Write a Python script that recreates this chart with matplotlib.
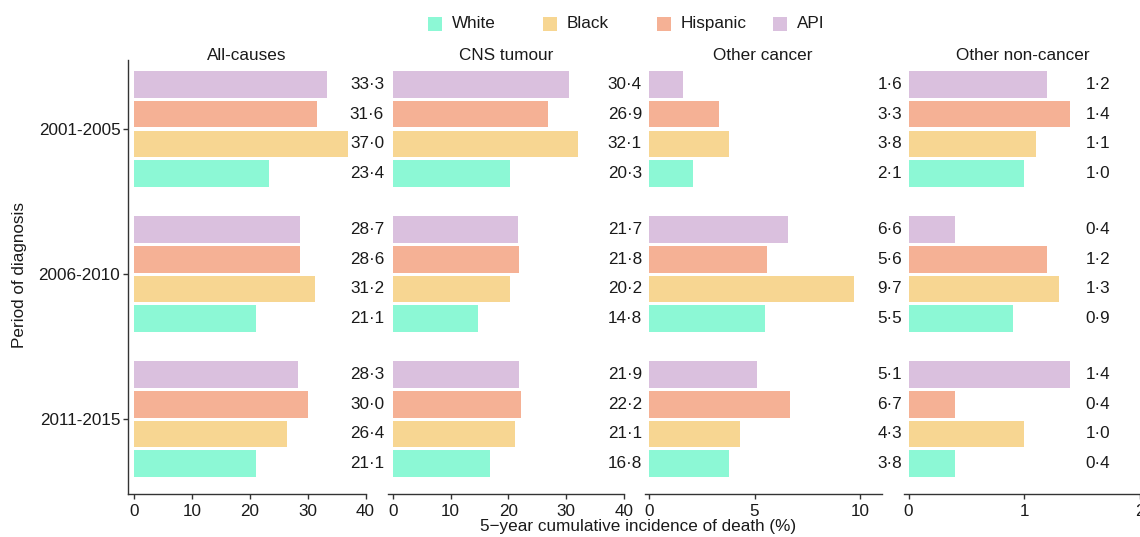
import matplotlib
matplotlib.use('Agg')
import matplotlib.pyplot as plt
import matplotlib.transforms as mtransforms
from matplotlib.patches import Rectangle
import numpy as np

FS = 12.3
plt.rcParams['font.family'] = ['Liberation Sans', 'DejaVu Sans']
plt.rcParams['font.size'] = FS

periods = ['2001-2005', '2006-2010', '2011-2015']
races = ['API', 'Hispanic', 'Black', 'White']   # top to bottom within a group
legend_order = ['White', 'Black', 'Hispanic', 'API']
colors = {'White': '#8cf8d5', 'Black': '#f7d692', 'Hispanic': '#f5b195', 'API': '#dac0de'}

causes = ['All-causes', 'CNS tumour', 'Other cancer', 'Other non-cancer']

# values per period, order API, Hispanic, Black, White
all_causes = [[33.3, 31.6, 37.0, 23.4], [28.7, 28.6, 31.2, 21.1], [28.3, 30.0, 26.4, 21.1]]
cns_tumour = [[30.4, 26.9, 32.1, 20.3], [21.7, 21.8, 20.2, 14.8], [21.9, 22.2, 21.1, 16.8]]
other_cancer = [[1.6, 3.3, 3.8, 2.1], [6.6, 5.6, 9.7, 5.5], [5.1, 6.7, 4.3, 3.8]]
other_noncancer = [[1.2, 1.4, 1.1, 1.0], [0.4, 1.2, 1.3, 0.9], [1.4, 0.4, 1.0, 0.4]]
panel_data = [all_causes, cns_tumour, other_cancer, other_noncancer]

xticks = [[0, 10, 20, 30, 40], [0, 10, 20, 30, 40], [0, 5, 10], [0, 1, 2]]
xlims = [(-1.04, 40.15), (-0.93, 40.0), (-0.21, 11.03), (-0.04, 2.01)]
# panel extents in pixels (left, right) and label x (axes fraction)
panel_px = [(128, 366.4), (387.5, 624), (644.6, 881.7), (904, 1141)]
label_ax_x = [1.074, 1.076, 1.086, 0.869]

W, H = 1140, 537
fig = plt.figure(figsize=(W / 100, H / 100), dpi=100)

top_px, bot_px = 60, 494
ink = '#1a1a1a'
bar_step = 0.205
bar_h = 0.184

for i, cause in enumerate(causes):
    l, r = panel_px[i]
    ax = fig.add_axes([l / W, 1 - bot_px / H, (r - l) / W, (bot_px - top_px) / H])
    vals = np.array(panel_data[i])
    trans = mtransforms.blended_transform_factory(ax.transAxes, ax.transData)
    for j, race in enumerate(races):
        y = np.arange(len(periods)) + (j - 1.5) * bar_step
        ax.barh(y, vals[:, j], height=bar_h, color=colors[race], left=0)
        for k in range(len(periods)):
            ax.text(label_ax_x[i], y[k], f'{vals[k, j]:.1f}'.replace('.', '\u00b7'),
                    transform=trans, ha='right', va='center', color=ink,
                    clip_on=False)
    ax.set_xlim(*xlims[i])
    ax.set_ylim(2.517, -0.476)
    ax.set_xticks(xticks[i])
    ax.spines['top'].set_visible(False)
    ax.spines['right'].set_visible(False)
    ax.spines['bottom'].set_color('#333333')
    ax.spines['bottom'].set_linewidth(1.0)
    ax.tick_params(axis='x', length=3.5, width=1.0, color='#333333', pad=4,
                   labelcolor=ink, labelsize=FS)
    if i == 0:
        ax.set_yticks(range(len(periods)))
        ax.set_yticklabels(periods)
        ax.spines['left'].set_color('#333333')
        ax.spines['left'].set_linewidth(1.0)
        ax.tick_params(axis='y', length=3.5, width=1.0, color='#333333', pad=2,
                       labelcolor=ink, labelsize=FS)
    else:
        ax.spines['left'].set_visible(False)
        ax.set_yticks([])
    ax.text(0.5, 1.0, cause, transform=ax.transAxes, ha='center', va='baseline',
            color=ink, fontsize=FS)

# legend drawn by hand so the entries are evenly spaced like the original
leg_sq = [428.3, 543, 657, 773]
for name, sx in zip(legend_order, leg_sq):
    fig.add_artist(Rectangle((sx / W, 1 - 30.7 / H), 13.7 / W, 13.4 / H,
                             transform=fig.transFigure, color=colors[name], lw=0))
    fig.text((sx + 23.5) / W, 1 - 23.5 / H, name, ha='left', va='center',
             color=ink, fontsize=FS)

fig.text(638.5 / W, 1 - 527 / H, '5\u2212year cumulative incidence of death (%)',
         ha='center', va='center', color=ink, fontsize=FS)
fig.text(20 / W, 1 - 275 / H, 'Period of diagnosis', rotation=90,
         ha='center', va='center', color=ink, fontsize=FS)

fig.savefig('out.png', dpi=100)
